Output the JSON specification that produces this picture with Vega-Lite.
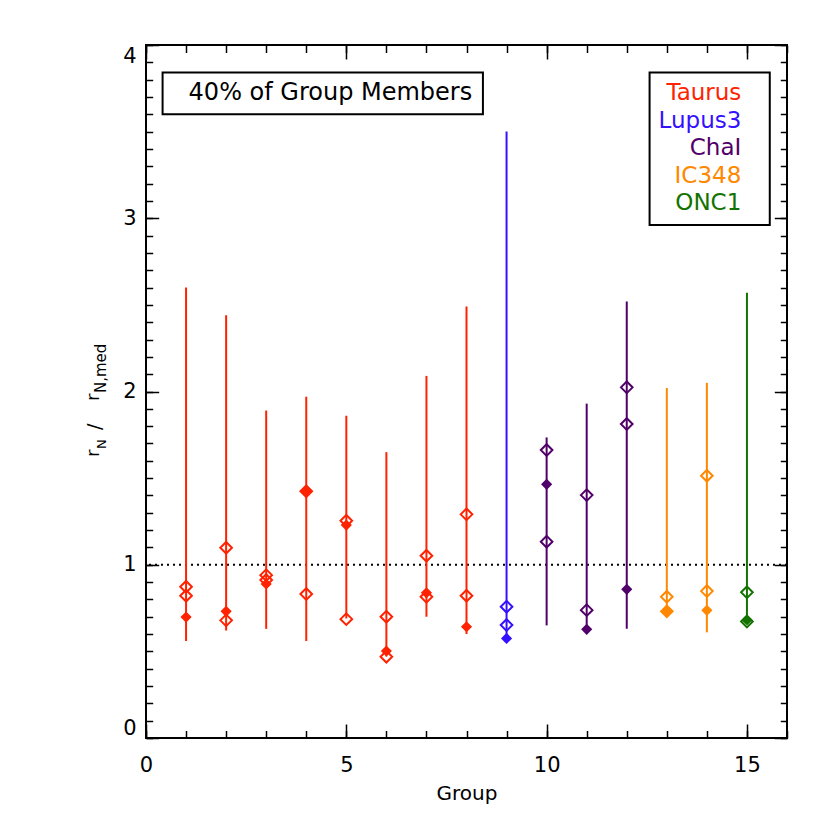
{
  "$schema": "https://vega.github.io/schema/vega-lite/v6.json",
  "width": 641,
  "height": 693,
  "autosize": {"type": "none"},
  "padding": {"left": 146, "top": 45, "right": 43, "bottom": 92},
  "background": "white",
  "config": {
    "font": "DejaVu Sans",
    "view": {"stroke": "black", "strokeWidth": 2},
    "axis": {"domain": false, "grid": false, "tickColor": "black", "tickWidth": 1.5, "labelColor": "black", "labelFont": "DejaVu Sans", "labelFontSize": 21, "titleFont": "DejaVu Sans", "titleColor": "black", "titleFontWeight": "normal", "labelOverlap": false}
  },
  "data": {"values": [{}]},
  "datasets": {
    "bars": [
      {"g": 1, "region": "Taurus", "lo": 0.56, "hi": 2.6},
      {"g": 2, "region": "Taurus", "lo": 0.62, "hi": 2.44},
      {"g": 3, "region": "Taurus", "lo": 0.63, "hi": 1.89},
      {"g": 4, "region": "Taurus", "lo": 0.56, "hi": 1.97},
      {"g": 5, "region": "Taurus", "lo": 0.69, "hi": 1.86},
      {"g": 6, "region": "Taurus", "lo": 0.47, "hi": 1.65},
      {"g": 7, "region": "Taurus", "lo": 0.7, "hi": 2.09},
      {"g": 8, "region": "Taurus", "lo": 0.6, "hi": 2.49},
      {"g": 9, "region": "Lupus3", "lo": 0.575, "hi": 3.5},
      {"g": 10, "region": "ChaI", "lo": 0.65, "hi": 1.735},
      {"g": 11, "region": "ChaI", "lo": 0.62, "hi": 1.93},
      {"g": 12, "region": "ChaI", "lo": 0.63, "hi": 2.52},
      {"g": 13, "region": "IC348", "lo": 0.73, "hi": 2.02},
      {"g": 14, "region": "IC348", "lo": 0.61, "hi": 2.05},
      {"g": 15, "region": "ONC1", "lo": 0.66, "hi": 2.57}
    ],
    "pts": [
      {"g": 1, "region": "Taurus", "v": 0.873, "kind": "open"},
      {"g": 1, "region": "Taurus", "v": 0.821, "kind": "open"},
      {"g": 1, "region": "Taurus", "v": 0.698, "kind": "filled"},
      {"g": 2, "region": "Taurus", "v": 1.098, "kind": "open"},
      {"g": 2, "region": "Taurus", "v": 0.731, "kind": "filled"},
      {"g": 2, "region": "Taurus", "v": 0.679, "kind": "open"},
      {"g": 3, "region": "Taurus", "v": 0.94, "kind": "open"},
      {"g": 3, "region": "Taurus", "v": 0.912, "kind": "open"},
      {"g": 3, "region": "Taurus", "v": 0.889, "kind": "filled"},
      {"g": 4, "region": "Taurus", "v": 1.424, "kind": "filled"},
      {"g": 4, "region": "Taurus", "v": 1.424, "kind": "open"},
      {"g": 4, "region": "Taurus", "v": 0.831, "kind": "open"},
      {"g": 5, "region": "Taurus", "v": 1.254, "kind": "open"},
      {"g": 5, "region": "Taurus", "v": 1.229, "kind": "filled"},
      {"g": 5, "region": "Taurus", "v": 0.686, "kind": "open"},
      {"g": 6, "region": "Taurus", "v": 0.7, "kind": "open"},
      {"g": 6, "region": "Taurus", "v": 0.502, "kind": "filled"},
      {"g": 6, "region": "Taurus", "v": 0.469, "kind": "open"},
      {"g": 7, "region": "Taurus", "v": 1.052, "kind": "open"},
      {"g": 7, "region": "Taurus", "v": 0.838, "kind": "filled"},
      {"g": 7, "region": "Taurus", "v": 0.815, "kind": "open"},
      {"g": 8, "region": "Taurus", "v": 1.291, "kind": "open"},
      {"g": 8, "region": "Taurus", "v": 0.821, "kind": "open"},
      {"g": 8, "region": "Taurus", "v": 0.642, "kind": "filled"},
      {"g": 9, "region": "Lupus3", "v": 0.758, "kind": "open"},
      {"g": 9, "region": "Lupus3", "v": 0.652, "kind": "open"},
      {"g": 9, "region": "Lupus3", "v": 0.575, "kind": "filled"},
      {"g": 10, "region": "ChaI", "v": 1.662, "kind": "open"},
      {"g": 10, "region": "ChaI", "v": 1.464, "kind": "filled"},
      {"g": 10, "region": "ChaI", "v": 1.133, "kind": "open"},
      {"g": 11, "region": "ChaI", "v": 1.402, "kind": "open"},
      {"g": 11, "region": "ChaI", "v": 0.738, "kind": "open"},
      {"g": 11, "region": "ChaI", "v": 0.627, "kind": "filled"},
      {"g": 12, "region": "ChaI", "v": 2.024, "kind": "open"},
      {"g": 12, "region": "ChaI", "v": 1.812, "kind": "open"},
      {"g": 12, "region": "ChaI", "v": 0.858, "kind": "filled"},
      {"g": 13, "region": "IC348", "v": 0.815, "kind": "open"},
      {"g": 13, "region": "IC348", "v": 0.731, "kind": "open"},
      {"g": 13, "region": "IC348", "v": 0.731, "kind": "filled"},
      {"g": 14, "region": "IC348", "v": 1.514, "kind": "open"},
      {"g": 14, "region": "IC348", "v": 0.848, "kind": "open"},
      {"g": 14, "region": "IC348", "v": 0.737, "kind": "filled"},
      {"g": 15, "region": "ONC1", "v": 0.841, "kind": "open"},
      {"g": 15, "region": "ONC1", "v": 0.672, "kind": "open"},
      {"g": 15, "region": "ONC1", "v": 0.681, "kind": "filled"}
    ]
  },
  "resolve": {"axis": {"x": "independent", "y": "independent"}},
  "layer": [
    {
      "mark": {"type": "rule", "color": "black", "strokeWidth": 2, "strokeDash": [2, 4]},
      "encoding": {"y": {"datum": 1, "type": "quantitative", "axis": null}}
    },
    {
      "data": {"name": "bars"},
      "mark": {"type": "rule", "strokeWidth": 2},
      "encoding": {
        "x": {"field": "g", "type": "quantitative", "scale": {"domain": [0, 16], "nice": false, "zero": false},
          "axis": {"orient": "bottom", "values": [0, 5, 10, 15], "ticks": false, "labelPadding": 16, "labelFlush": false, "title": "Group", "titleFontSize": 20, "titlePadding": 8}},
        "y": {"field": "lo", "type": "quantitative", "scale": {"domain": [0, 4], "nice": false, "zero": false},
          "axis": {"orient": "left", "values": [0, 1, 2, 3, 4], "ticks": false, "labelPadding": 10, "labelFlush": true, "title": null}},
        "y2": {"field": "hi"},
        "color": {"field": "region", "type": "nominal", "legend": null,
          "scale": {"domain": ["Taurus", "Lupus3", "ChaI", "IC348", "ONC1"], "range": ["#ff2200", "#3311ff", "#500068", "#ff8800", "#137300"]}}
      }
    },
    {
      "data": {"name": "pts"},
      "transform": [{"filter": "datum.kind === 'open'"}],
      "mark": {"type": "point", "shape": "diamond", "filled": false, "size": 135, "strokeWidth": 2, "opacity": 1},
      "encoding": {
        "x": {"field": "g", "type": "quantitative",
          "axis": {"orient": "bottom", "values": [0, 5, 10, 15], "tickSize": -14, "labels": false, "title": null}},
        "y": {"field": "v", "type": "quantitative",
          "axis": {"orient": "left", "values": [0, 1, 2, 3, 4], "tickSize": -12.7, "labels": false, "title": null}},
        "color": {"field": "region", "type": "nominal", "legend": null}
      }
    },
    {
      "data": {"name": "pts"},
      "transform": [{"filter": "datum.kind === 'filled'"}],
      "mark": {"type": "point", "shape": "diamond", "filled": true, "size": 125, "opacity": 1},
      "encoding": {
        "x": {"field": "g", "type": "quantitative",
          "axis": {"orient": "bottom", "values": [0, 1, 2, 3, 4, 5, 6, 7, 8, 9, 10, 11, 12, 13, 14, 15, 16], "tickSize": -7.5, "labels": false, "title": null}},
        "y": {"field": "v", "type": "quantitative",
          "axis": {"orient": "left", "values": [0, 0.1, 0.2, 0.3, 0.4, 0.5, 0.6, 0.7, 0.8, 0.9, 1, 1.1, 1.2, 1.3, 1.4, 1.5, 1.6, 1.7, 1.8, 1.9, 2, 2.1, 2.2, 2.3, 2.4, 2.5, 2.6, 2.7, 2.8, 2.9, 3, 3.1, 3.2, 3.3, 3.4, 3.5, 3.6, 3.7, 3.8, 3.9, 4], "tickSize": -6.7, "labels": false, "title": null}},
        "color": {"field": "region", "type": "nominal", "legend": null}
      }
    },
    {
      "mark": {"type": "rect", "fill": "white", "fillOpacity": 0, "stroke": "black", "strokeWidth": 2},
      "encoding": {
        "x": {"datum": 0.414, "type": "quantitative",
          "axis": {"orient": "top", "values": [0, 5, 10, 15], "tickSize": -14, "labels": false, "title": null}},
        "x2": {"datum": 8.41},
        "y": {"datum": 3.841, "type": "quantitative",
          "axis": {"orient": "right", "values": [0, 1, 2, 3, 4], "tickSize": -12.7, "labels": false, "title": null}},
        "y2": {"datum": 3.6}
      }
    },
    {
      "mark": {"type": "rect", "fill": "white", "fillOpacity": 0, "stroke": "black", "strokeWidth": 2},
      "encoding": {
        "x": {"datum": 12.57, "type": "quantitative",
          "axis": {"orient": "top", "values": [0, 1, 2, 3, 4, 5, 6, 7, 8, 9, 10, 11, 12, 13, 14, 15, 16], "tickSize": -7.5, "labels": false, "title": null}},
        "x2": {"datum": 15.57},
        "y": {"datum": 3.841, "type": "quantitative",
          "axis": {"orient": "right", "values": [0, 0.1, 0.2, 0.3, 0.4, 0.5, 0.6, 0.7, 0.8, 0.9, 1, 1.1, 1.2, 1.3, 1.4, 1.5, 1.6, 1.7, 1.8, 1.9, 2, 2.1, 2.2, 2.3, 2.4, 2.5, 2.6, 2.7, 2.8, 2.9, 3, 3.1, 3.2, 3.3, 3.4, 3.5, 3.6, 3.7, 3.8, 3.9, 4], "tickSize": -6.7, "labels": false, "title": null}},
        "y2": {"datum": 2.961}
      }
    },
    {
      "mark": {"type": "text", "text": "40% of Group Members", "align": "left", "baseline": "middle", "fontSize": 24, "color": "black"},
      "encoding": {"x": {"datum": 1.063, "type": "quantitative", "axis": null}, "y": {"datum": 3.722, "type": "quantitative", "axis": null}}
    },
    {
      "mark": {"type": "text", "text": "Taurus", "align": "right", "baseline": "middle", "fontSize": 23, "color": "#ff2200"},
      "encoding": {"x": {"datum": 14.86, "type": "quantitative", "axis": null}, "y": {"datum": 3.722, "type": "quantitative", "axis": null}}
    },
    {
      "mark": {"type": "text", "text": "Lupus3", "align": "right", "baseline": "middle", "fontSize": 23, "color": "#3311ff"},
      "encoding": {"x": {"datum": 14.86, "type": "quantitative", "axis": null}, "y": {"datum": 3.562, "type": "quantitative", "axis": null}}
    },
    {
      "mark": {"type": "text", "text": "ChaI", "align": "right", "baseline": "middle", "fontSize": 23, "color": "#500068"},
      "encoding": {"x": {"datum": 14.86, "type": "quantitative", "axis": null}, "y": {"datum": 3.404, "type": "quantitative", "axis": null}}
    },
    {
      "mark": {"type": "text", "text": "IC348", "align": "right", "baseline": "middle", "fontSize": 23, "color": "#ff8800"},
      "encoding": {"x": {"datum": 14.86, "type": "quantitative", "axis": null}, "y": {"datum": 3.244, "type": "quantitative", "axis": null}}
    },
    {
      "mark": {"type": "text", "text": "ONC1", "align": "right", "baseline": "middle", "fontSize": 23, "color": "#137300"},
      "encoding": {"x": {"datum": 14.86, "type": "quantitative", "axis": null}, "y": {"datum": 3.087, "type": "quantitative", "axis": null}}
    },
    {
      "mark": {"type": "text", "text": "r", "align": "left", "baseline": "alphabetic", "angle": 270, "fontSize": 18, "color": "black", "dx": 0, "dy": 0},
      "encoding": {"x": {"datum": -1.166, "type": "quantitative", "axis": null}, "y": {"datum": 1.622, "type": "quantitative", "axis": null}}
    },
    {
      "mark": {"type": "text", "text": "N", "align": "left", "baseline": "alphabetic", "angle": 270, "fontSize": 13, "color": "black", "dx": 8, "dy": 7},
      "encoding": {"x": {"datum": -1.166, "type": "quantitative", "axis": null}, "y": {"datum": 1.622, "type": "quantitative", "axis": null}}
    },
    {
      "mark": {"type": "text", "text": "/", "align": "left", "baseline": "alphabetic", "angle": 270, "fontSize": 19, "color": "black", "dx": 27, "dy": 2},
      "encoding": {"x": {"datum": -1.166, "type": "quantitative", "axis": null}, "y": {"datum": 1.622, "type": "quantitative", "axis": null}}
    },
    {
      "mark": {"type": "text", "text": "r", "align": "left", "baseline": "alphabetic", "angle": 270, "fontSize": 18, "color": "black", "dx": 56, "dy": 0},
      "encoding": {"x": {"datum": -1.166, "type": "quantitative", "axis": null}, "y": {"datum": 1.622, "type": "quantitative", "axis": null}}
    },
    {
      "mark": {"type": "text", "text": "N,med", "align": "left", "baseline": "alphabetic", "angle": 270, "fontSize": 15, "color": "black", "dx": 64, "dy": 7},
      "encoding": {"x": {"datum": -1.166, "type": "quantitative", "axis": null}, "y": {"datum": 1.622, "type": "quantitative", "axis": null}}
    }
  ]
}
